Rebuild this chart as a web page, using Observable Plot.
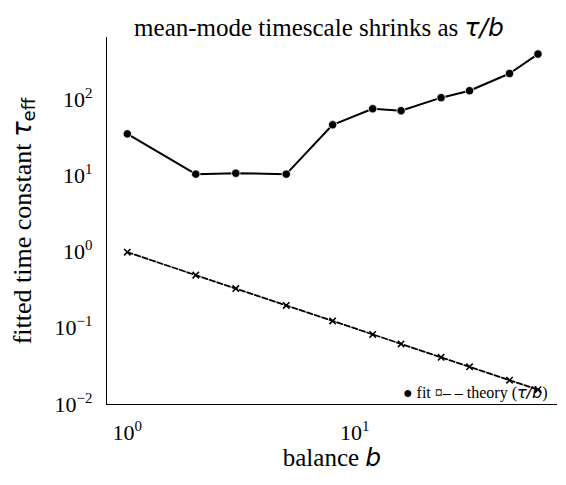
<!DOCTYPE html>
<html><head><meta charset="utf-8">
<script src="https://cdn.jsdelivr.net/npm/d3@7"></script>
<script src="https://cdn.jsdelivr.net/npm/@observablehq/plot@0.6"></script>
<style>body{margin:0;background:#fff}</style>
</head><body><div id="chart"></div>
<script>
const balance = [1, 2, 3, 5, 8, 12, 16, 24, 32, 48, 64];
const fitTau = [35.8, 10.6, 10.9, 10.6, 47.1, 76.5, 72, 107, 132, 222, 400];
const theoryTau = [1, 0.5, 0.3333, 0.2, 0.125, 0.08333, 0.0625, 0.04167, 0.03125, 0.02083, 0.015625];
const xTicks = [1, 10];
const yTicks = [0.01, 0.1, 1, 10, 100];
const expOf = v => String(Math.round(Math.log10(v))).replace("-", "−");
const fmt = v => "10^" + expOf(v);

const fit = balance.map((b, i) => ({b, v: fitTau[i]}));
const theory = balance.map((b, i) => ({b, v: theoryTau[i]}));
const serif = "Liberation Serif";

const plot = Plot.plot({
  width: 566, height: 485,
  marginTop: 37, marginLeft: 106, marginRight: 9, marginBottom: 81,
  style: {fontFamily: serif, background: "#fff"},
  x: {type: "log", domain: [0.81, 78], ticks: xTicks, tickFormat: fmt, label: null},
  y: {type: "log", domain: [0.01, 660], ticks: yTicks, tickFormat: fmt, label: null},
  marks: [
    Plot.axisX({ticks: xTicks, tickFormat: fmt, tickSize: 0, tickPadding: 20, fontSize: 22, label: null, className: "xax"}),
    Plot.axisY({ticks: yTicks, tickFormat: fmt, tickSize: 0, tickPadding: 14, fontSize: 22, label: null, className: "yax"}),
    Plot.ruleX([0.81], {stroke: "black", strokeWidth: 1}),
    Plot.ruleY([0.01], {stroke: "black", strokeWidth: 1}),
    Plot.line(theory, {x: "b", y: "v", stroke: "black", strokeWidth: 1.8, strokeDasharray: "5.5,2.4"}),
    Plot.dot(theory, {x: "b", y: "v", symbol: "times", r: 3, stroke: "black", strokeWidth: 1.6}),
    Plot.line(fit, {x: "b", y: "v", stroke: "black", strokeWidth: 2}),
    Plot.dot(fit, {x: "b", y: "v", r: 4.2, fill: "black", stroke: "white", strokeWidth: 0.8}),
    Plot.text(["title"], {frameAnchor: "top", dy: -19, dx: -13, fontSize: 25, className: "ttl", text: d => d}),
    Plot.text(["xlabel"], {frameAnchor: "bottom", dy: 61, dx: 0, fontSize: 25, className: "xlab", text: d => d}),
    Plot.text(["ylabel"], {frameAnchor: "left", textAnchor: "middle", dx: -84, dy: 0, rotate: -90, fontSize: 26, className: "ylab", text: d => d}),
    Plot.text(["legend"], {frameAnchor: "bottom-right", dx: -10, dy: -7, textAnchor: "end", fontSize: 16, className: "leg", text: d => d})
  ]
});
document.getElementById("chart").append(plot);
const svg = d3.select(plot);
const math = "DejaVu Sans";
function setParts(cls, parts) {
  const t = svg.select("." + cls + " text");
  t.text(null);
  for (const p of parts) {
    const s = t.append("tspan").text(p.t);
    if (p.m) s.attr("font-family", math).attr("font-style", "italic");
    if (p.sub) s.attr("font-family", math).attr("font-size", "0.7em").attr("dy", "0.25em");
  }
}
setParts("ttl", [{t: "mean-mode timescale shrinks as "}, {t: "τ/b", m: true}]);
setParts("xlab", [{t: "balance "}, {t: "b", m: true}]);
setParts("ylab", [{t: "fitted time constant "}, {t: "τ", m: true}, {t: "eff", sub: true}]);
setParts("leg", [{t: "● fit ¤– – theory ("}, {t: "τ/b", m: true}, {t: ")"}]);
// superscript exponents on tick labels
svg.selectAll(".xax text, .yax text").each(function () {
  const t = d3.select(this);
  const s = t.text();
  if (!s.startsWith("10^")) return;
  t.text(null);
  t.append("tspan").text("10");
  t.append("tspan").text(s.slice(3)).attr("font-size", "0.68em").attr("dy", "-0.6em");
});
</script>
</body></html>
